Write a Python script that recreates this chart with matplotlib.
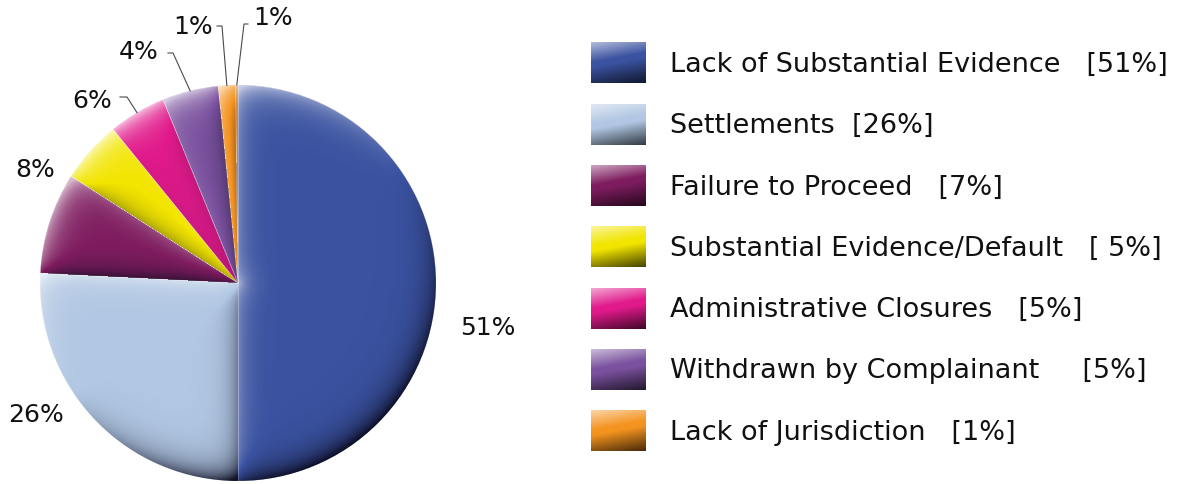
import numpy as np
import matplotlib
matplotlib.use("Agg")
import matplotlib.pyplot as plt
from matplotlib.patches import Circle
from matplotlib.colors import to_rgb

# legend rows
categories = ["Lack of Substantial Evidence", "Settlements", "Failure to Proceed",
              "Substantial Evidence/Default", "Administrative Closures",
              "Withdrawn by Complainant", "Lack of Jurisdiction"]
legend_pct = ["[51%]", "[26%]", "[7%]", "[ 5%]", "[5%]", "[5%]", "[1%]"]
legend_gap = ["   ", "  ", "   ", "   ", "   ", "     ", "   "]
legend_colors = ["#3a52a0", "#b1c7e3", "#7e1c5f", "#f2e500", "#e11a8b", "#7a519e", "#f4931f"]

# slices as drawn (last one is the hairline sliver beside the orange one)
slice_values = [50.2, 25.9, 8.3, 5.1, 4.7, 4.6, 1.4, 0.2]
slice_labels = ["51%", "26%", "8%", "", "6%", "4%", "1%", "1%"]
slice_colors = legend_colors + ["#c97416"]

W, H = 1179, 484
cx, cy, R = 238, H - 283, 198

# label placement (pixel coords from top-left), leader stub start / elbow
label_pos = [(488, 328), (36, 415), (35, 170), None, (92, 101), (139, 52), (193, 27), (273, 18)]
leader_pts = {4: [(120, 97), (127, 97)], 5: [(168, 53), (173, 53)],
              6: [(217, 26), (222, 26)], 7: [(248, 24), (244, 24)]}

FONT = "DejaVu Sans"
TXT = "#111111"


def bevel(ax, wedges, width=10.0):
    n = int(2 * R)
    xs = np.linspace(cx - R, cx + R, n)
    ys = np.linspace(cy - R, cy + R, n)
    X, Y = np.meshgrid(xs, ys)
    dx, dy = X - cx, Y - cy
    r = np.maximum(np.hypot(dx, dy), 1e-6)
    th = np.degrees(np.arctan2(dy, dx))
    light = np.array([-0.55, 0.83])
    light /= np.linalg.norm(light)
    shade = np.zeros_like(r)
    rim_d = np.maximum(R - r, 0)
    rim_dot = (dx / r) * light[0] + (dy / r) * light[1]
    rim_s = rim_dot * np.exp(-rim_d / (width * 1.3))
    for w in wedges:
        t1, t2 = w.theta1, w.theta2
        span = t2 - t1
        rel = (th - t1) % 360
        inside = rel <= span
        d1 = np.where(rel < 90, r * np.sin(np.radians(rel)), r)
        d2 = np.where((span - rel) < 90, r * np.sin(np.radians(span - rel)), r)
        n1 = np.radians(t1 - 90)
        n2 = np.radians(t2 + 90)
        dot1 = np.cos(n1) * light[0] + np.sin(n1) * light[1]
        dot2 = np.cos(n2) * light[0] + np.sin(n2) * light[1]
        s = rim_s + 0.8 * dot1 * np.exp(-d1 / width) + 0.8 * dot2 * np.exp(-d2 / width)
        shade = np.where(inside, s, shade)
    shade = np.clip(shade, -1, 1)
    rgba = np.zeros(shade.shape + (4,))
    pos = shade > 0
    rgba[pos, :3] = 1.0
    rgba[pos, 3] = shade[pos] * 0.7
    rgba[~pos, :3] = (0.04, 0.04, 0.12)
    rgba[~pos, 3] = -shade[~pos] * 0.95
    im = ax.imshow(rgba, extent=(cx - R, cx + R, cy - R, cy + R), origin="lower",
                   interpolation="bilinear", zorder=3)
    im.set_clip_path(Circle((cx, cy), R, transform=ax.transData))


def legend_square(ax, x, y, w, h, color):
    base = np.array(to_rgb(color))
    u, v = np.meshgrid(np.linspace(0, 1, 40), np.linspace(0, 1, 40))
    t = 0.8 * v + 0.2 * u
    img = np.empty(t.shape + (3,))
    for k in range(3):
        c = base[k]
        lighter = c + (1 - c) * np.clip((0.4 - t) / 0.4, 0, 1) * 0.6
        img[..., k] = np.where(t < 0.4, lighter,
                               c * (1 - np.clip((t - 0.5) / 0.5, 0, 1) * 0.7))
    ax.imshow(img, extent=(x, x + w, y - h, y), origin="upper",
              interpolation="bilinear", zorder=3)


fig = plt.figure(figsize=(W / 100, H / 100), dpi=100)
ax = fig.add_axes([0, 0, 1, 1])

wedges, _ = ax.pie(slice_values, colors=slice_colors, startangle=90, counterclock=False,
                   center=(cx, cy), radius=R,
                   wedgeprops=dict(edgecolor=(1, 1, 1, 0.45), linewidth=0.5))
bevel(ax, wedges)

for i, lab in enumerate(slice_labels):
    if not lab:
        continue
    px, py = label_pos[i]
    ax.text(px, H - py, lab, ha="center", va="center", fontsize=18, family=FONT, color=TXT)
    if i in leader_pts:
        w = wedges[i]
        a = np.radians((w.theta1 + w.theta2) / 2)
        end = (cx + R * np.cos(a), cy + R * np.sin(a))
        pts = [(x, H - y) for x, y in leader_pts[i]] + [end]
        ax.plot([p[0] for p in pts], [p[1] for p in pts], color="#4a4a4a", lw=0.8, zorder=4)

row0, step = 63, 61.3
for i, name in enumerate(categories):
    yc = H - (row0 + i * step)
    legend_square(ax, 591, yc + 20.5, 55, 41, legend_colors[i])
    ax.text(670, yc - 2, name + legend_gap[i] + legend_pct[i], ha="left", va="center",
            fontsize=19.5, family=FONT, color=TXT)

ax.set_xlim(0, W)
ax.set_ylim(0, H)
ax.set_aspect("auto")
ax.axis("off")

fig.savefig("out.png", dpi=100)
